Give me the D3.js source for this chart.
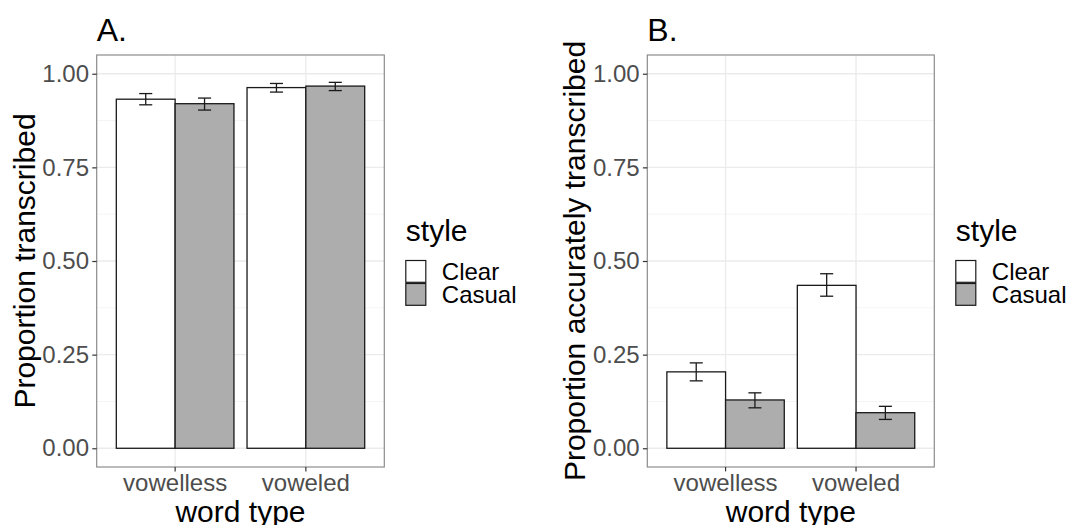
<!DOCTYPE html>
<html>
<head>
<meta charset="utf-8">
<script src="https://cdn.jsdelivr.net/npm/d3@7"></script>
<style>
  body { margin: 0; background: #fff; }
  svg { display: block; font-family: "Liberation Sans", Arial, sans-serif; }
  .tick text { fill: #4d4d4d; }
  .tick line { stroke: #333; }
</style>
</head>
<body>
<svg id="chart" width="1079" height="525"></svg>
<script>
// Chart values
const wordTypes = ['vowelless', 'voweled'];
const styles = ['Clear', 'Casual'];
const styleFills = ['#ffffff', '#adadad'];
const yTicks = [0, 0.25, 0.5, 0.75, 1];
const yMinorTicks = [0.125, 0.375, 0.625, 0.875];

// order: vowelless-Clear, vowelless-Casual, voweled-Clear, voweled-Casual
const transcribedMean = [0.932, 0.920, 0.963, 0.967];
const transcribedLow = [0.917, 0.903, 0.951, 0.955];
const transcribedHigh = [0.947, 0.935, 0.974, 0.977];

const accurateMean = [0.204, 0.129, 0.435, 0.095];
const accurateLow = [0.180, 0.108, 0.406, 0.077];
const accurateHigh = [0.228, 0.148, 0.466, 0.112];

class BarPanel {
  constructor(svg, opts) {
    this.svg = svg;
    this.opts = opts;
    this.init();
    this.draw();
  }

  init() {
    const o = this.opts;
    this.g = this.svg.append('g');

    // continuous y with ggplot's 5% expansion
    this.yScale = d3.scaleLinear()
      .domain([-0.05, 1.05])
      .range([o.bottom, o.top]);

    // discrete x: 0.6 units of padding each side
    this.xScale = d3.scaleBand()
      .domain(wordTypes)
      .range([o.left, o.right])
      .paddingInner(0)
      .paddingOuter(0.1);

    const step = this.xScale.step();
    this.subScale = d3.scaleBand()
      .domain(styles)
      .range([0.05 * step, 0.95 * step]);
  }

  draw() {
    const o = this.opts;
    const g = this.g;
    const x = this.xScale;
    const y = this.yScale;
    const sub = this.subScale;

    // grid lines
    g.selectAll('.minor').data(yMinorTicks).enter().append('line')
      .attr('x1', o.left).attr('x2', o.right)
      .attr('y1', (d) => y(d)).attr('y2', (d) => y(d))
      .attr('stroke', '#f2f2f2').attr('stroke-width', 0.8);
    g.selectAll('.major').data(yTicks).enter().append('line')
      .attr('x1', o.left).attr('x2', o.right)
      .attr('y1', (d) => y(d)).attr('y2', (d) => y(d))
      .attr('stroke', '#ebebeb').attr('stroke-width', 1.3);
    g.selectAll('.vgrid').data(wordTypes).enter().append('line')
      .attr('x1', (d) => x(d) + x.bandwidth() / 2)
      .attr('x2', (d) => x(d) + x.bandwidth() / 2)
      .attr('y1', o.top).attr('y2', o.bottom)
      .attr('stroke', '#ebebeb').attr('stroke-width', 1.3);

    // bars + error bars
    const rows = [];
    wordTypes.forEach((w, i) => {
      styles.forEach((s, j) => {
        const k = i * styles.length + j;
        rows.push({ w, s, fill: styleFills[j], mean: o.mean[k], lo: o.low[k], hi: o.high[k] });
      });
    });

    g.selectAll('.bar').data(rows).enter().append('rect')
      .attr('x', (d) => x(d.w) + sub(d.s))
      .attr('width', sub.bandwidth())
      .attr('y', (d) => y(d.mean))
      .attr('height', (d) => y(0) - y(d.mean))
      .attr('fill', (d) => d.fill)
      .attr('stroke', '#1a1a1a')
      .attr('stroke-width', 1.3);

    const capHalf = x.step() * 0.05;
    const err = g.selectAll('.err').data(rows).enter().append('g')
      .attr('stroke', '#1a1a1a')
      .attr('stroke-width', 1.3)
      .attr('fill', 'none');
    const cx = (d) => x(d.w) + sub(d.s) + sub.bandwidth() / 2;
    err.append('line')
      .attr('x1', cx).attr('x2', cx)
      .attr('y1', (d) => y(d.lo)).attr('y2', (d) => y(d.hi));
    err.append('line')
      .attr('x1', (d) => cx(d) - capHalf).attr('x2', (d) => cx(d) + capHalf)
      .attr('y1', (d) => y(d.lo)).attr('y2', (d) => y(d.lo));
    err.append('line')
      .attr('x1', (d) => cx(d) - capHalf).attr('x2', (d) => cx(d) + capHalf)
      .attr('y1', (d) => y(d.hi)).attr('y2', (d) => y(d.hi));

    // panel border
    g.append('rect')
      .attr('x', o.left).attr('y', o.top)
      .attr('width', o.right - o.left).attr('height', o.bottom - o.top)
      .attr('fill', 'none')
      .attr('stroke', '#8c8c8c')
      .attr('stroke-width', 1.2);

    // axes
    const yAxis = g.append('g')
      .attr('transform', `translate(${o.left},0)`)
      .call(d3.axisLeft(y).tickValues(yTicks).tickFormat(d3.format('.2f'))
        .tickSize(4.4).tickPadding(3.3));
    yAxis.select('.domain').remove();
    yAxis.selectAll('text').style('font-size', '24px');
    yAxis.selectAll('line').attr('stroke-width', 1.2);

    const xAxis = g.append('g')
      .attr('transform', `translate(0,${o.bottom})`)
      .call(d3.axisBottom(x).tickSize(4.4).tickPadding(3));
    xAxis.select('.domain').remove();
    xAxis.selectAll('text').style('font-size', '24px');
    xAxis.selectAll('line').attr('stroke-width', 1.2);

    // titles
    g.append('text')
      .attr('x', o.left).attr('y', 41)
      .style('font-size', '32px')
      .text(o.tag);

    g.append('text')
      .attr('transform', `translate(${o.left - 62},${(o.top + o.bottom) / 2}) rotate(-90)`)
      .style('text-anchor', 'middle')
      .style('font-size', '30px')
      .text(o.yLabel);

    g.append('text')
      .attr('x', (o.left + o.right) / 2).attr('y', 522)
      .style('text-anchor', 'middle')
      .style('font-size', '30px')
      .text('word type');

    // legend
    const lx = o.right + 21.5;
    g.append('text')
      .attr('x', lx).attr('y', 240.7)
      .style('font-size', '30px')
      .text('style');

    const keyH = 21.8;
    const items = g.selectAll('.key').data(styles).enter().append('g')
      .attr('transform', (d, i) => `translate(${lx},${260.5 + i * (keyH + 1.2)})`);
    items.append('rect')
      .attr('width', 20).attr('height', keyH)
      .attr('fill', (d, i) => styleFills[i])
      .attr('stroke', '#1a1a1a')
      .attr('stroke-width', 1.2);
    items.append('text')
      .attr('x', 36).attr('y', keyH / 2 + 8.6)
      .style('font-size', '24px')
      .text((d) => d);
  }
}

const svg = d3.select('#chart');
svg.append('rect').attr('width', 1079).attr('height', 525).attr('fill', '#fff');

new BarPanel(svg, {
  left: 96.7, right: 384.3, top: 55, bottom: 467,
  tag: 'A.', yLabel: 'Proportion transcribed',
  mean: transcribedMean, low: transcribedLow, high: transcribedHigh,
});

new BarPanel(svg, {
  left: 647.3, right: 934.3, top: 55, bottom: 467,
  tag: 'B.', yLabel: 'Proportion accurately transcribed',
  mean: accurateMean, low: accurateLow, high: accurateHigh,
});
</script>
</body>
</html>
